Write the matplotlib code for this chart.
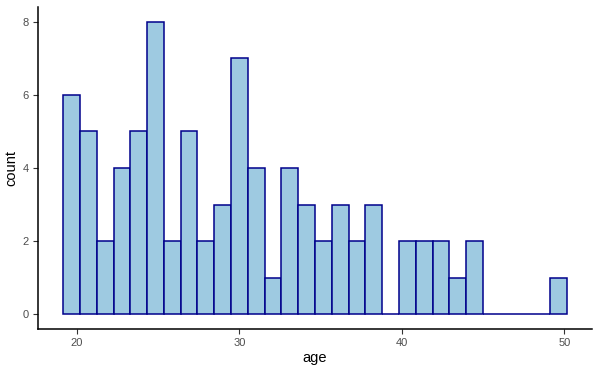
import matplotlib
matplotlib.use("Agg")
import matplotlib.pyplot as plt
import numpy as np

plt.rcParams["font.family"] = ["Liberation Sans", "DejaVu Sans"]

counts = [6, 5, 2, 4, 5, 8, 2, 5, 2, 3, 7, 4, 1, 4, 3, 2, 3, 2, 3, 0, 2, 2, 2, 1, 2, 0, 0, 0, 0, 1]
bin_start = 19.15
bin_end = 50.15
x_ticks = [20, 30, 40, 50]
y_ticks = [0, 2, 4, 6, 8]

edges = np.linspace(bin_start, bin_end, len(counts) + 1)
widths = np.diff(edges)

fig = plt.figure(figsize=(6.0, 3.73), dpi=100)
ax = fig.add_axes([38/600, 1 - 329/373, (592 - 38)/600, (329 - 7)/373])

ax.bar(edges[:-1], counts, width=widths, align="edge", color="#9ecae1",
       edgecolor="#00008B", linewidth=1.1)

rng = bin_end - bin_start
ax.set_xlim(bin_start - 0.05 * rng, bin_end + 0.05 * rng)
ax.set_ylim(-0.4, 8.4)
ax.set_xticks(x_ticks)
ax.set_yticks(y_ticks)
for s in ["top", "right"]:
    ax.spines[s].set_visible(False)
for s in ["left", "bottom"]:
    ax.spines[s].set_linewidth(1.1)
    ax.spines[s].set_color("black")
ax.tick_params(axis="both", length=3.5, width=0.8, color="#333333",
               labelsize=8, labelcolor="#4D4D4D", pad=3)
ax.set_xlabel("age", fontsize=10.5, color="black", labelpad=2)
ax.set_ylabel("count", fontsize=10.5, color="black", labelpad=3)

fig.savefig("out.png", dpi=100)
